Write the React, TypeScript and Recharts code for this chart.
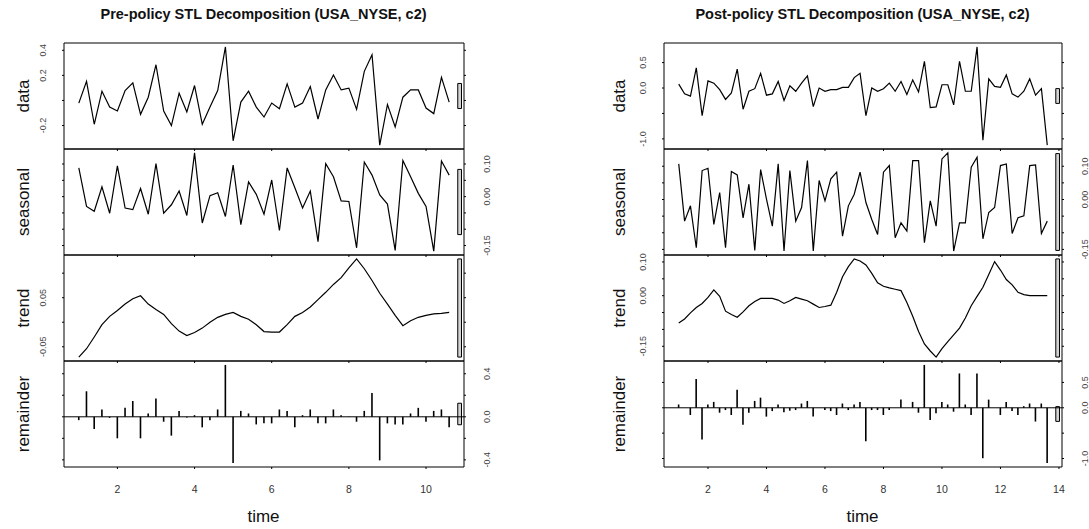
import {
  Bar,
  ComposedChart,
  Line,
  ReferenceArea,
  ReferenceLine,
  XAxis,
  YAxis,
} from "recharts";

// ts(start = 1, frequency = 5)
const FREQ = 5;

const preData = [
  -0.021, 0.153, -0.19, 0.074, -0.053, -0.084, 0.079, 0.14, -0.111, 0.026,
  0.285, -0.084, -0.2, 0.058, -0.092, 0.119, -0.19, -0.053, 0.079, 0.427,
  -0.322, -0.013, 0.074, -0.053, -0.132, -0.021, -0.066, 0.132, -0.053, -0.021,
  0.111, -0.148, 0.084, 0.203, 0.084, 0.098, -0.071, 0.232, 0.364, -0.356,
  -0.032, -0.211, 0.026, 0.084, 0.084, -0.061, -0.105, 0.184, -0.013,
];
const preSeasonal = [
  0.088, -0.03, -0.045, 0.03, -0.051, 0.094, -0.035, -0.04, 0.025, -0.054,
  0.101, -0.051, -0.025, 0.017, -0.058, 0.134, -0.081, 0.003, 0.012, -0.061,
  0.097, -0.086, 0.045, 0.007, -0.054, 0.051, -0.104, 0.088, 0.027, -0.035,
  0.017, -0.138, 0.101, 0.061, -0.013, -0.015, -0.157, 0.106, 0.066, 0.005,
  -0.023, -0.165, 0.111, 0.061, 0.01, -0.03, -0.167, 0.109, 0.066,
];
const preTrend = [
  -0.071, -0.054, -0.03, -0.005, 0.012, 0.024, 0.037, 0.048, 0.054, 0.037,
  0.026, 0.016, -0.003, -0.018, -0.027, -0.021, -0.012, 0.0, 0.01, 0.016,
  0.02, 0.012, 0.006, -0.005, -0.019, -0.02, -0.02, -0.005, 0.012, 0.02,
  0.031, 0.046, 0.061, 0.077, 0.091, 0.111, 0.129, 0.109, 0.085, 0.059,
  0.037, 0.014, -0.007, 0.003, 0.01, 0.014, 0.017, 0.018, 0.02,
];
const preRemainder = [
  -0.031, 0.237, -0.114, 0.068, -0.01, -0.2, 0.083, 0.147, -0.2, 0.031,
  0.169, -0.046, -0.175, 0.055, -0.007, 0.015, -0.098, -0.031, 0.068, 0.482,
  -0.43, 0.055, 0.031, -0.071, -0.061, -0.061, 0.068, 0.055, -0.098, 0.015,
  0.068, -0.061, -0.061, 0.068, 0.015, 0.002, -0.046, 0.055, 0.221, -0.405,
  -0.061, -0.071, -0.071, 0.031, 0.083, -0.046, 0.055, 0.068, -0.098,
];

const postData = [
  0.077, -0.115, -0.16, 0.397, -0.545, 0.141, 0.096, -0.032, -0.224, -0.096,
  0.372, -0.417, -0.064, -0.013, 0.288, -0.141, -0.115, 0.128, -0.244, 0.045,
  -0.064, 0.096, 0.237, -0.365, 0.0, -0.064, -0.032, -0.032, 0.013, 0.013,
  0.205, 0.288, -0.545, 0.0, -0.064, -0.013, 0.096, -0.064, 0.128, -0.128,
  0.16, -0.077, 0.526, -0.385, -0.372, 0.064, 0.064, -0.333, 0.526, -0.064,
  -0.064, 0.808, -1.026, 0.179, 0.032, 0.013, 0.256, -0.115, -0.179, -0.064,
  0.179, -0.141, -0.013, -1.122,
];
const postSeasonal = [
  0.107, -0.065, -0.019, -0.145, 0.087, 0.094, -0.075, 0.021, -0.145, 0.084,
  0.074, -0.055, 0.046, -0.153, 0.09, 0.001, -0.08, 0.107, -0.155, 0.087,
  -0.065, -0.024, 0.117, -0.155, 0.057, -0.004, 0.062, 0.082, -0.11, -0.019,
  0.016, 0.082, -0.009, -0.06, -0.105, 0.082, 0.102, -0.115, -0.07, -0.095,
  0.117, 0.117, -0.13, -0.004, -0.08, 0.122, 0.14, -0.155, -0.07, -0.07,
  0.097, 0.127, -0.118, -0.039, -0.024, 0.102, 0.107, -0.102, -0.055, -0.049,
  0.102, 0.104, -0.102, -0.065,
];
const postTrend = [
  -0.081, -0.069, -0.051, -0.035, -0.023, -0.005, 0.017, -0.002, -0.046, -0.056,
  -0.064, -0.048, -0.03, -0.017, -0.008, -0.008, -0.008, -0.013, -0.023, -0.015,
  -0.005, -0.01, -0.015, -0.025, -0.035, -0.032, -0.028, 0.01, 0.056, 0.086,
  0.109, 0.103, 0.091, 0.066, 0.038, 0.028, 0.023, 0.019, 0.015, -0.02,
  -0.061, -0.106, -0.143, -0.164, -0.182, -0.157, -0.136, -0.116, -0.096, -0.066,
  -0.03, -0.002, 0.025, 0.063, 0.101, 0.076, 0.048, 0.032, 0.01, 0.003,
  0.0, 0.0, 0.0, 0.0,
];
const postRemainder = [
  0.065, 0.0, -0.142, 0.568, -0.626, 0.065, 0.116, -0.097, -0.045, -0.142,
  0.355, -0.335, -0.097, 0.135, 0.2, -0.174, -0.065, 0.065, -0.09, -0.058,
  -0.045, 0.084, 0.135, -0.174, 0.0, -0.045, -0.065, -0.142, 0.084, -0.045,
  0.065, 0.116, -0.658, -0.045, -0.045, -0.142, -0.045, 0.0, 0.161, 0.0,
  0.116, -0.097, 0.845, -0.239, -0.11, 0.116, 0.065, -0.077, 0.677, 0.065,
  -0.142, 0.677, -0.994, 0.161, 0.0, -0.142, 0.116, -0.065, -0.142, 0.032,
  0.084, -0.271, 0.084, -1.09,
];

const panelNames = ["data", "seasonal", "trend", "remainder"];

const preXTicks = [2, 4, 6, 8, 10];
const postXTicks = [2, 4, 6, 8, 10, 12, 14];

const preDataTicks = [-0.2, 0, 0.2, 0.4];
const preDataTickText = ["-0.2", "", "0.2", "0.4"];
const preSeasonalTicks = [-0.15, -0.1, -0.05, 0, 0.05, 0.1];
const preSeasonalTickText = ["-0.15", "", "", "0.00", "", "0.10"];
const preTrendTicks = [-0.05, 0, 0.05, 0.1];
const preTrendTickText = ["-0.05", "", "0.05", ""];
const preRemainderTicks = [-0.4, -0.2, 0, 0.2, 0.4];
const preRemainderTickText = ["-0.4", "", "0.0", "", "0.4"];

const postDataTicks = [-1, -0.5, 0, 0.5];
const postDataTickText = ["-1.0", "", "0.0", "0.5"];
const postSeasonalTicks = [-0.15, -0.1, -0.05, 0, 0.05, 0.1];
const postSeasonalTickText = ["-0.15", "", "", "0.00", "", "0.10"];
const postTrendTicks = [-0.15, -0.1, -0.05, 0, 0.05, 0.1];
const postTrendTickText = ["-0.15", "", "", "0.00", "", "0.10"];
const postRemainderTicks = [-1, -0.5, 0, 0.5];
const postRemainderTickText = ["-1.0", "", "0.0", "0.5"];

const FONT = "'Liberation Sans', Arial, Helvetica, sans-serif";
const PANEL_TOP = 43;
const PANEL_H = 106;
const AXIS_W = 60;

type PanelSpec = {
  values: number[];
  ticks: number[];
  tickText: string[];
};

type PlotProps = {
  title: string;
  boxLeft: number;
  boxWidth: number;
  nameOffset: number;
  xTicks: number[];
  panels: PanelSpec[];
};

// R's default axis extension: range +/- 4%
const padRange = (lo: number, hi: number): [number, number] => {
  const pad = (hi - lo) * 0.04;
  return [lo - pad, hi + pad];
};

function StlPlot({ title, boxLeft, boxWidth, nameOffset, xTicks, panels }: PlotProps) {
  const n = panels[0].values.length;
  const times = panels[0].values.map((_, i) => 1 + i / FREQ);
  const xDomain = padRange(times[0], times[n - 1]);
  const ranges = panels.map((p) => [Math.min(...p.values), Math.max(...p.values)]);
  const mx = Math.min(...ranges.map((r) => r[1] - r[0]));
  const dx = (xDomain[1] - xDomain[0]) / 64;
  const chartW = boxWidth + AXIS_W * 2;

  return (
    <>
      <div
        style={{
          position: "absolute",
          left: boxLeft + boxWidth / 2,
          top: 14,
          transform: "translate(-50%, -50%)",
          whiteSpace: "nowrap",
          fontFamily: FONT,
          fontWeight: "bold",
          fontSize: 14.5,
          color: "#111",
        }}
      >
        {title}
      </div>

      {panels.map((p, i) => {
        const labelsRight = i % 2 === 1;
        const isLast = i === panels.length - 1;
        const xH = isLast ? 36 : 4;
        const yDomain = padRange(ranges[i][0], ranges[i][1]);
        const mid = (ranges[i][0] + ranges[i][1]) / 2;
        const top = PANEL_TOP + i * PANEL_H;
        const data = p.values.map((v, j) => ({ t: times[j], v }));

        const tickFor = (side: "L" | "R") => (props: any) => {
          const { y, payload } = props;
          const idx = p.ticks.findIndex((t) => Math.abs(t - payload.value) < 1e-9);
          const text = (side === "R") === labelsRight && idx >= 0 ? p.tickText[idx] : "";
          if (!text) return <g />;
          const cx = side === "L" ? AXIS_W - 21 : AXIS_W + boxWidth + 23;
          return (
            <text
              x={cx}
              y={y}
              transform={`rotate(-90 ${cx} ${y})`}
              textAnchor="middle"
              dominantBaseline="central"
              fontSize={9}
              fontFamily={FONT}
              fill="#444"
            >
              {text}
            </text>
          );
        };

        return (
          <div key={panelNames[i]}>
            <div
              style={{
                position: "absolute",
                left: boxLeft - nameOffset,
                top: top + PANEL_H / 2,
                transform: "translate(-50%, -50%) rotate(-90deg)",
                whiteSpace: "nowrap",
                fontFamily: FONT,
                fontSize: 17,
                lineHeight: "17px",
                color: "#111",
              }}
            >
              {panelNames[i]}
            </div>
            <div style={{ position: "absolute", left: boxLeft - AXIS_W, top: top - 2 }}>
              <ComposedChart
                width={chartW}
                height={PANEL_H + 2 + xH}
                data={data}
                margin={{ top: 2, right: 0, bottom: 0, left: 0 }}
              >
                <XAxis
                  dataKey="t"
                  type="number"
                  domain={xDomain}
                  ticks={xTicks}
                  allowDataOverflow
                  interval={0}
                  height={xH}
                  tickSize={2}
                  tickMargin={isLast ? 17 : 0}
                  axisLine={false}
                  tickLine={{ stroke: "#000" }}
                  tickFormatter={(v) => (isLast ? String(v) : "")}
                  tick={{ fontSize: 10.5, fill: "#333", fontFamily: FONT }}
                />
                <YAxis
                  yAxisId="L"
                  orientation="left"
                  type="number"
                  width={AXIS_W}
                  domain={yDomain}
                  ticks={p.ticks}
                  allowDataOverflow
                  interval={0}
                  tickSize={2}
                  axisLine={false}
                  tickLine={{ stroke: "#000" }}
                  tick={tickFor("L")}
                />
                <YAxis
                  yAxisId="R"
                  orientation="right"
                  type="number"
                  width={AXIS_W}
                  domain={yDomain}
                  ticks={p.ticks}
                  allowDataOverflow
                  interval={0}
                  tickSize={2}
                  axisLine={false}
                  tickLine={{ stroke: "#000" }}
                  tick={tickFor("R")}
                />
                {isLast ? (
                  <Bar
                    yAxisId="L"
                    dataKey="v"
                    fill="#000"
                    barSize={1.6}
                    isAnimationActive={false}
                  />
                ) : (
                  <Line
                    yAxisId="L"
                    dataKey="v"
                    type="linear"
                    stroke="#000"
                    strokeWidth={1.2}
                    dot={false}
                    isAnimationActive={false}
                  />
                )}
                <Line
                  yAxisId="R"
                  dataKey="v"
                  stroke="none"
                  dot={false}
                  activeDot={false}
                  isAnimationActive={false}
                />
                {isLast && <ReferenceLine yAxisId="L" y={0} stroke="#000" strokeWidth={1} />}
                <ReferenceArea
                  yAxisId="L"
                  x1={xDomain[1] - dx}
                  x2={xDomain[1] - 0.4 * dx}
                  y1={mid - mx / 2}
                  y2={mid + mx / 2}
                  fill="#D3D3D3"
                  fillOpacity={1}
                  stroke="#000"
                  strokeWidth={1}
                  ifOverflow="visible"
                />
                <ReferenceArea
                  yAxisId="L"
                  x1={xDomain[0]}
                  x2={xDomain[1]}
                  y1={yDomain[0]}
                  y2={yDomain[1]}
                  fill="none"
                  stroke="#000"
                  strokeWidth={1}
                  ifOverflow="visible"
                />
              </ComposedChart>
            </div>
          </div>
        );
      })}

      <div
        style={{
          position: "absolute",
          left: boxLeft + boxWidth / 2,
          top: 516,
          transform: "translate(-50%, -50%)",
          fontFamily: FONT,
          fontSize: 17,
          lineHeight: "17px",
          color: "#111",
        }}
      >
        time
      </div>
    </>
  );
}

export default function App() {
  return (
    <div
      style={{
        position: "absolute",
        left: 0,
        top: 0,
        width: 1089,
        height: 529,
        background: "#fff",
        overflow: "hidden",
      }}
    >
      <StlPlot
        title="Pre-policy STL Decomposition (USA_NYSE, c2)"
        boxLeft={63.5}
        boxWidth={400}
        nameOffset={40.5}
        xTicks={preXTicks}
        panels={[
          { values: preData, ticks: preDataTicks, tickText: preDataTickText },
          { values: preSeasonal, ticks: preSeasonalTicks, tickText: preSeasonalTickText },
          { values: preTrend, ticks: preTrendTicks, tickText: preTrendTickText },
          { values: preRemainder, ticks: preRemainderTicks, tickText: preRemainderTickText },
        ]}
      />
      <StlPlot
        title="Post-policy STL Decomposition (USA_NYSE, c2)"
        boxLeft={663.5}
        boxWidth={398}
        nameOffset={45}
        xTicks={postXTicks}
        panels={[
          { values: postData, ticks: postDataTicks, tickText: postDataTickText },
          { values: postSeasonal, ticks: postSeasonalTicks, tickText: postSeasonalTickText },
          { values: postTrend, ticks: postTrendTicks, tickText: postTrendTickText },
          { values: postRemainder, ticks: postRemainderTicks, tickText: postRemainderTickText },
        ]}
      />
    </div>
  );
}
